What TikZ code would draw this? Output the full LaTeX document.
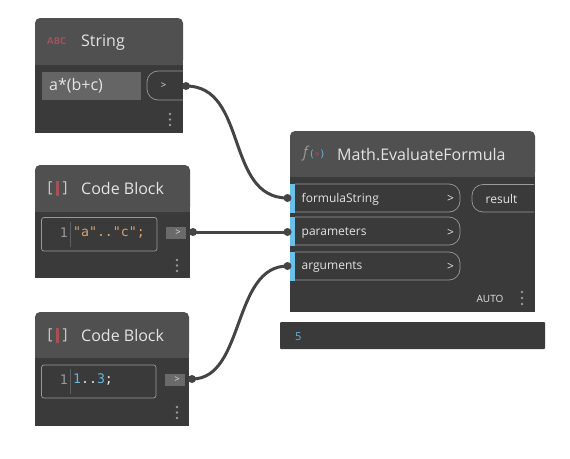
\documentclass[tikz,border=0pt]{standalone}
\usepackage{fontspec}
\setmainfont{Open Sans}
\setmonofont{DejaVu Sans Mono}
\newfontfamily\symfont{DejaVu Sans}
\usetikzlibrary{positioning}
\definecolor{nodebody}{HTML}{3A3A3A}
\definecolor{nodehead}{HTML}{505050}
\definecolor{wirecol}{HTML}{444444}
\definecolor{portblue}{HTML}{6AC0E7}
\definecolor{textcol}{HTML}{E4E4E4}
\definecolor{linecol}{HTML}{999999}
\definecolor{iconred}{HTML}{A4525A}
\definecolor{codeorange}{HTML}{D8A468}
\definecolor{codeblue}{HTML}{6AB4DC}
\tikzset{
	title/.style={anchor=west,text=textcol,font=\fontsize{16}{18}\selectfont,inner sep=0pt},
	portlabel/.style={anchor=west,text=textcol,font=\fontsize{12}{14}\selectfont,inner sep=0pt},
	arrowlabel/.style={text=textcol,font=\fontsize{12}{14}\selectfont,inner sep=0pt},
	smallarrow/.style={text=textcol,font=\fontsize{9.5}{11}\selectfont,inner sep=0pt},
	bracket/.style={text=linecol!50!white,font=\fontsize{15}{16}\selectfont,inner sep=0pt},
	codetext/.style={anchor=west,font=\ttfamily\fontsize{13.2}{15}\selectfont,inner sep=0pt},
	portbox/.style={draw=linecol,line width=0.7pt},
	dot/.style={circle,fill=linecol,inner sep=0pt,minimum size=2.6pt},
	jack/.style={circle,fill=wirecol,inner sep=0pt,minimum size=8pt},
	wire/.style={draw=wirecol,line width=3pt}
}
\begin{document}
\begin{tikzpicture}[x=1pt,y=-1pt]
	\useasboundingbox (0,0) rectangle (570,458);
	% String
	\fill[nodebody] (35,60) rectangle (183,133);
	\fill[nodehead,rounded corners=5pt] (35,65) -- (35,18) -- (183,18) -- (183,65) -- cycle;
	\fill[nodehead] (35,55) rectangle (183,65);
	\node[anchor=west,text=iconred,font=\bfseries\fontsize{9.5}{10}\selectfont,inner sep=0pt] (stringicon) at (47,41.5) {ABC};
	\node[title] (stringtitle) at (81,43) {String};
	\fill[linecol!45!nodebody] (42,72) rectangle (141,100);
	\node[anchor=west,text=textcol,font=\fontsize{16}{18}\selectfont,inner sep=0pt] (stringval) at (49,85.5) {a*(b+c)};
	\draw[portbox] (183,71) -- (158,71) arc[start angle=90,end angle=180,radius=11pt] -- (147,89) arc[start angle=180,end angle=270,radius=11pt] -- (183,100);
	\node[smallarrow] (stringarrow) at (163.5,85.5) {>};
	\node[dot] (stringdota) at (170,114) {};
	\node[dot] (stringdotb) at (170,119.5) {};
	\node[dot] (stringdotc) at (170,125) {};

	% first code block
	\fill[nodebody] (35,205) rectangle (190,278);
	\fill[nodehead,rounded corners=5pt] (35,212) -- (35,165) -- (190,165) -- (190,212) -- cycle;
	\fill[nodehead] (35,202) rectangle (190,212);
	\node[bracket] (codeiconl) at (50,188) {[};
	\node[bracket] (codeiconr) at (65,188) {]};
	\fill[iconred] (55.5,181) rectangle (58.5,196);
	\node[title] (codetitle) at (81,188.5) {Code Block};
	\draw[portbox,rounded corners=2.5pt] (41.5,217.5) rectangle (157,251);
	\draw[linecol!40!nodebody,line width=0.4pt] (70,222) -- (70,247);
	\node[codetext,text=linecol,anchor=east] (codeline) at (68,232.5) {1};
	\node[codetext,text=codeorange] (codeval) at (73,232.5) {"a".."c";};
	\fill[linecol!50!nodebody] (166,227) rectangle (186,239);
	\node[smallarrow] (codearrow) at (178,233) {>};
	\node[dot] (codedota) at (177,260) {};
	\node[dot] (codedotb) at (177,265.5) {};
	\node[dot] (codedotc) at (177,271) {};

	% second code block
	\fill[nodebody] (35,350) rectangle (189,426);
	\fill[nodehead,rounded corners=5pt] (35,358) -- (35,312) -- (189,312) -- (189,358) -- cycle;
	\fill[nodehead] (35,348) rectangle (189,358);
	\node[bracket] (rangeiconl) at (50,335) {[};
	\node[bracket] (rangeiconr) at (65,335) {]};
	\fill[iconred] (55.5,328) rectangle (58.5,343);
	\node[title] (rangetitle) at (81,335.5) {Code Block};
	\draw[portbox,rounded corners=2.5pt] (41.5,365) rectangle (156,398);
	\draw[linecol!40!nodebody,line width=0.4pt] (70,369) -- (70,394);
	\node[codetext,text=linecol,anchor=east] (rangeline) at (68,380) {1};
	\node[codetext] (rangeval) at (73,380) {\textcolor{codeblue}{1}\textcolor{textcol}{..}\textcolor{codeblue}{3}\textcolor{textcol}{;}};
	\fill[linecol!50!nodebody] (165,374) rectangle (185,386);
	\node[smallarrow] (rangearrow) at (177,380) {>};
	\node[dot] (rangedota) at (177,407) {};
	\node[dot] (rangedotb) at (177,412.5) {};
	\node[dot] (rangedotc) at (177,418) {};

	% formula node
	\fill[nodebody] (290,170) rectangle (535,312);
	\fill[nodehead,rounded corners=5pt] (290,177) -- (290,131) -- (535,131) -- (535,177) -- cycle;
	\fill[nodehead] (290,167) rectangle (535,177);
	\node[anchor=west,text=linecol,font=\itshape\fontsize{15}{16}\selectfont,inner sep=0pt] (formulaf) at (303,154) {f};
	\node[anchor=west,text=codeblue,font=\symfont\fontsize{10}{11}\selectfont,inner sep=0pt] (formulax) at (310,154) {(\textcolor{iconred}{∘})};
	\node[title] (formulatitle) at (337,154.5) {Math.EvaluateFormula};
	\foreach \name/\ytop/\ylab/\txt in {fs/184/199/formulaString,pa/217/232.5/parameters,ar/252/267/arguments}{
		\draw[portbox] (295,\ytop) -- (449,\ytop) arc[start angle=90,end angle=0,radius=11pt] -- (460,\ytop+17) arc[start angle=0,end angle=-90,radius=11pt] -- (295,\ytop+28);
		\fill[portblue] (290,\ytop) rectangle (295,\ytop+29);
		\node[portlabel] (\name label) at (301.5,\ylab) {\txt};
		\node[arrowlabel] (\name arrow) at (450.5,\ylab) {>};
	}
	\draw[portbox] (534,184.5) -- (483,184.5) arc[start angle=90,end angle=180,radius=11pt] -- (472,201) arc[start angle=180,end angle=270,radius=11pt] -- (534,212);
	\node[portlabel] (resultlabel) at (485.5,198.5) {result};
	\node[text=textcol,font=\fontsize{10}{11}\selectfont,inner sep=0pt] (autolabel) at (490,299) {AUTO};
	\node[dot] (formuladota) at (522,292) {};
	\node[dot] (formuladotb) at (522,298) {};
	\node[dot] (formuladotc) at (522,304) {};

	% preview
	\fill[nodebody,rounded corners=1pt] (280,322) rectangle (545,349);
	\node[anchor=west,text=codeblue,font=\fontsize{11}{12}\selectfont,inner sep=0pt] (previewval) at (295,336.5) {5};

	% wires
	\node[jack] (stringout) at (186,86) {};
	\node[jack] (codeout) at (193,232) {};
	\node[jack] (rangeout) at (192,379) {};
	\node[jack] (fsin) at (287.5,198) {};
	\node[jack] (pain) at (287.5,232) {};
	\node[jack] (arin) at (287.5,266) {};
	\draw[wire] (stringout.center) .. controls (248,86) and (225,198) .. (fsin.center);
	\draw[wire] (codeout.center) -- (pain.center);
	\draw[wire] (rangeout.center) .. controls (245,379) and (232,266) .. (arin.center);
\end{tikzpicture}
\end{document}
